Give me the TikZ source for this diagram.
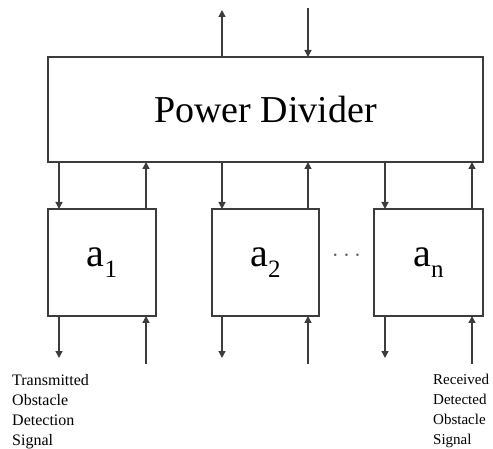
\documentclass[tikz,border=0pt]{standalone}
\usepackage{fontspec}
\setmainfont{Liberation Serif}
\usepackage{xcolor}
\definecolor{lngray}{RGB}{60,60,60}
\usetikzlibrary{arrows.meta, positioning, calc}
\newcommand{\lowidx}[1]{\raisebox{-0.28em}{\fontsize{25}{25}\selectfont #1}}

\begin{document}
\begin{tikzpicture}[x=1pt, y=-1pt,
    sig/.style={lngray, line width=1.4pt, -{Triangle[length=7pt, width=7pt]}},
    blk/.style={draw=lngray, line width=1.3pt, rectangle, inner sep=0pt, outer sep=0pt}]
      \useasboundingbox (0,0) rectangle (493,449);
      % Power divider on top
      \node[blk, minimum width=435pt, minimum height=105pt,
            font=\fontsize{38}{40}\selectfont] (pd) at (265.5,109.5) {Power Divider};
      % Element blocks
      \node[blk, minimum width=108pt, minimum height=107pt,
            font=\fontsize{40}{42}\selectfont] (a1) at (102,262.5) {a\lowidx{1}};
      \node[blk, minimum width=107pt, minimum height=107pt,
            font=\fontsize{40}{42}\selectfont] (a2) at (265.5,262.5) {a\lowidx{2}};
      \node[blk, minimum width=109pt, minimum height=107pt,
            font=\fontsize{40}{42}\selectfont] (an) at (428.5,262.5) {a\lowidx{n}};
      \node[lngray!80, font=\fontsize{36}{36}\selectfont] (dots) at (346.5,256) {$\cdots$};
      % Free ends
      \coordinate (tout) at (222,10);
      \coordinate (tin) at (308,8);
      \coordinate (bout) at (59,358);
      \coordinate (bin) at (472,364);
      \coordinate (b1in) at (146,364);
      \coordinate (b2out) at (222,358);
      \coordinate (b2in) at (308,364);
      \coordinate (bnout) at (385,358);
      % Top arrows
      \draw[sig] (tout |- pd.north) -- (tout);
      \draw[sig] (tin) -- (tin |- pd.north);
      % Divider to blocks
      \draw[sig] ([xshift=11pt]a1.north west |- pd.south) -- ([xshift=11pt]a1.north west);
      \draw[sig] ([xshift=-10pt]a1.north east) -- ([xshift=-10pt]a1.north east |- pd.south);
      \draw[sig] ([xshift=10pt]a2.north west |- pd.south) -- ([xshift=10pt]a2.north west);
      \draw[sig] ([xshift=-11pt]a2.north east) -- ([xshift=-11pt]a2.north east |- pd.south);
      \draw[sig] ([xshift=11pt]an.north west |- pd.south) -- ([xshift=11pt]an.north west);
      \draw[sig] ([xshift=-11pt]an.north east) -- ([xshift=-11pt]an.north east |- pd.south);
      % Block outputs and inputs
      \draw[sig] (bout |- a1.south) -- (bout);
      \draw[sig] (b1in) -- (b1in |- a1.south);
      \draw[sig] (b2out |- a2.south) -- (b2out);
      \draw[sig] (b2in) -- (b2in |- a2.south);
      \draw[sig] (bnout |- an.south) -- (bnout);
      \draw[sig] (bin) -- (bin |- an.south);
      % Signal labels
      \node[anchor=north west, inner sep=0pt, align=left,
            font=\fontsize{16}{20}\selectfont] (txlbl) at (12,374)
            {Transmitted\\Obstacle\\Detection\\Signal};
      \node[anchor=north west, inner sep=0pt, align=left,
            font=\fontsize{15}{20}\selectfont] (rxlbl) at (433,374)
            {Received\\Detected\\Obstacle\\Signal};
    \end{tikzpicture}
\end{document}
